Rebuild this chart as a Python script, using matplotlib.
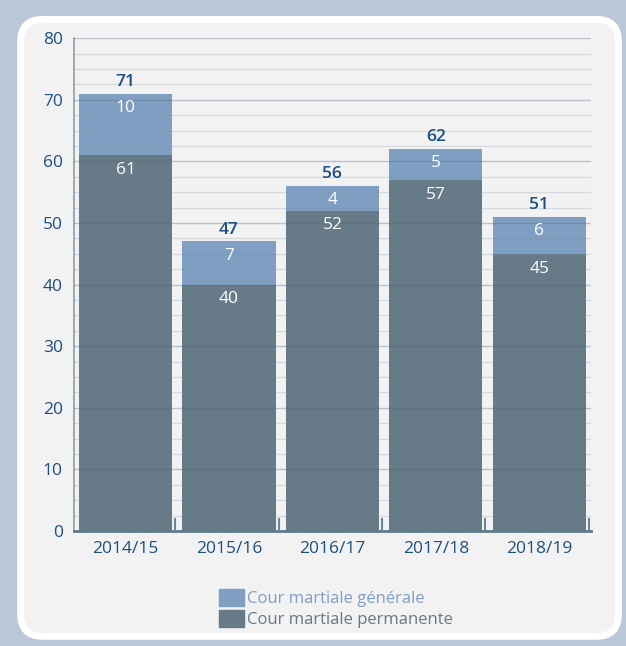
import numpy as np
import matplotlib.pyplot as plt
from matplotlib.patches import FancyBboxPatch

# data
years = ['2014/15', '2015/16', '2016/17', '2017/18', '2018/19']
permanente = [61, 40, 52, 57, 45]
generale = [10, 7, 4, 5, 6]
totals = [p + g for p, g in zip(permanente, generale)]

plt.rcParams['font.family'] = ['Open Sans', 'DejaVu Sans']

c_gen = '#7F9FC2'
c_perm = '#667A87'
c_txt = '#1D4F82'

fig = plt.figure(figsize=(6.26, 6.46), dpi=100)
fig.patch.set_facecolor('#BAC8D9')

# rounded panel behind the axes
panel = FancyBboxPatch((0.033, 0.015), 0.955, 0.955, boxstyle='round,pad=0,rounding_size=0.035',
                       transform=fig.transFigure, facecolor='#F2F2F2', edgecolor='white',
                       linewidth=5, zorder=-1)
fig.patches.append(panel)

ax = fig.add_axes([0.118, 0.178, 0.826, 0.763])
ax.set_facecolor('none')
ax.set_zorder(1)

x = np.arange(len(years))
ax.bar(x, permanente, width=0.9, color=c_perm, zorder=2)
ax.bar(x, generale, width=0.9, bottom=permanente, color=c_gen, zorder=2)

# grid lines over the bars
for v in np.arange(2.5, 80.1, 2.5):
    if v % 10 == 0:
        ax.axhline(v, color='#4F6878', alpha=0.35, lw=1.0, zorder=3)
    else:
        ax.axhline(v, color='#7890A0', alpha=0.25, lw=0.9, zorder=3)

# small ticks at category boundaries
for b in np.arange(0.5, len(years), 1.0):
    ax.plot([b - 0.02, b - 0.02], [0, 2], color='#6B8796', lw=1.5, zorder=3)

for i in range(len(years)):
    ax.text(x[i], totals[i] + 0.6, str(totals[i]), ha='center', va='bottom',
            color=c_txt, fontsize=12.5, fontweight='semibold', zorder=4)
    ax.text(x[i], totals[i] - 1.0, str(generale[i]), ha='center', va='top',
            color='white', fontsize=12.5, zorder=4)
    ax.text(x[i], permanente[i] - 1.1, str(permanente[i]), ha='center', va='top',
            color='white', fontsize=12.5, zorder=4)

ax.set_xlim(-0.5, 4.5)
ax.set_ylim(0, 80)
ax.set_yticks(range(0, 81, 10))
ax.set_xticks(x)
ax.set_xticklabels(years)
ax.tick_params(axis='both', length=0, labelsize=12.5, labelcolor=c_txt)
ax.tick_params(axis='y', pad=8)
ax.tick_params(axis='x', pad=7)

for s in ['top', 'right']:
    ax.spines[s].set_visible(False)
ax.spines['left'].set_color('#8AA0AC')
ax.spines['left'].set_linewidth(1.2)
ax.spines['bottom'].set_color('#5E7A88')
ax.spines['bottom'].set_linewidth(2)

h1 = plt.Rectangle((0, 0), 1, 1, color=c_gen)
h2 = plt.Rectangle((0, 0), 1, 1, color=c_perm)
leg = fig.legend([h1, h2], ['Cour martiale générale', 'Cour martiale permanente'],
                 loc='center', bbox_to_anchor=(0.537, 0.058), frameon=False,
                 fontsize=12, handlelength=1.5, handleheight=1.2, handletextpad=0.15,
                 labelspacing=0.15, labelcolor=[c_gen, c_perm])

fig.savefig('out.png', dpi=100, facecolor=fig.get_facecolor())
